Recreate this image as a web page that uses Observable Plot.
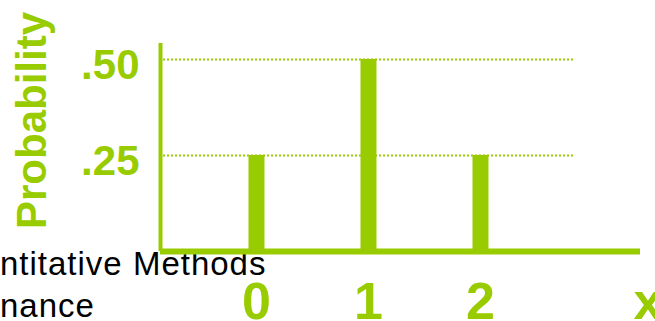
<!DOCTYPE html>
<html><head><meta charset="utf-8">
<script src="https://cdn.jsdelivr.net/npm/d3@7"></script>
<script src="https://cdn.jsdelivr.net/npm/@observablehq/plot@0.6"></script>
<style>
body{margin:0;background:#fff;}
#wrap{position:relative;width:655px;height:321px;overflow:hidden;background:#fff;}
.cap{position:absolute;left:0;font-family:"Liberation Sans",Arial,Helvetica,sans-serif;font-size:33px;line-height:33px;color:#000;letter-spacing:1px;white-space:nowrap;}
</style></head><body>
<div id="wrap">
<div class="cap" id="c1" style="top:247px"></div>
<div class="cap" id="c2" style="top:289px"></div>
</div>
<script>
// data
const outcomes = [0, 1, 2];
const probabilities = [0.25, 0.50, 0.25];
const yTicks = [0.25, 0.50];
const yTickLabels = [".25", ".50"];
const xTickLabels = ["0", "1", "2"];
const xAxisLabel = "x";
const yAxisLabel = "Probability";
const captionLines = ["ntitative Methods", "nance"];

document.getElementById("c1").textContent = captionLines[0];
document.getElementById("c2").textContent = captionLines[1];

const green = "#99CC00";
const font = '"Liberation Sans", Arial, Helvetica, sans-serif';
const xDomain = [-0.857, 3.4286];
const yDomain = [0, 0.5417];
const data = outcomes.map((x, i) => ({x, p: probabilities[i]}));

const chart = Plot.plot({
  width: 655, height: 321,
  marginLeft: 160, marginRight: 15, marginTop: 43, marginBottom: 70,
  style: {background: "transparent", fontFamily: font, position: "absolute", left: "0px", top: "0px", overflow: "visible"},
  x: {domain: xDomain},
  y: {domain: yDomain},
  marks: [
    Plot.gridY({ticks: yTicks, stroke: green, strokeOpacity: 1, strokeWidth: 2, strokeDasharray: "2,2", insetLeft: 3, insetRight: 67}),
    Plot.ruleX(data, {x: "x", y1: 0, y2: "p", stroke: green, strokeWidth: 16}),
    Plot.ruleX([xDomain[0]], {stroke: green, strokeWidth: 4}),
    Plot.ruleY([0], {stroke: green, strokeWidth: 6}),
    Plot.axisY({ticks: yTicks, label: null, tickSize: 0, tickPadding: 21, dy: 6,
      tickFormat: d => yTickLabels[yTicks.indexOf(d)],
      fontSize: 42, fontWeight: "bold", fill: green}),
    Plot.axisX({ticks: outcomes, label: null, tickSize: 0, tickPadding: 31,
      tickFormat: d => xTickLabels[outcomes.indexOf(d)],
      fontSize: 52, fontWeight: "bold", fill: green}),
    Plot.text([xAxisLabel], {frameAnchor: "bottom-right", text: d => d, textAnchor: "start", lineAnchor: "middle",
      dx: -7, dy: 51, fontSize: 52, fontWeight: "bold", fill: green}),
    Plot.text([yAxisLabel], {frameAnchor: "top-left", text: d => d, rotate: -90,
      textAnchor: "middle", lineAnchor: "middle",
      dx: -128, dy: 77, fontSize: 42, fontWeight: "bold", fill: green})
  ]
});
document.getElementById("wrap").appendChild(chart);
</script>
</body></html>
